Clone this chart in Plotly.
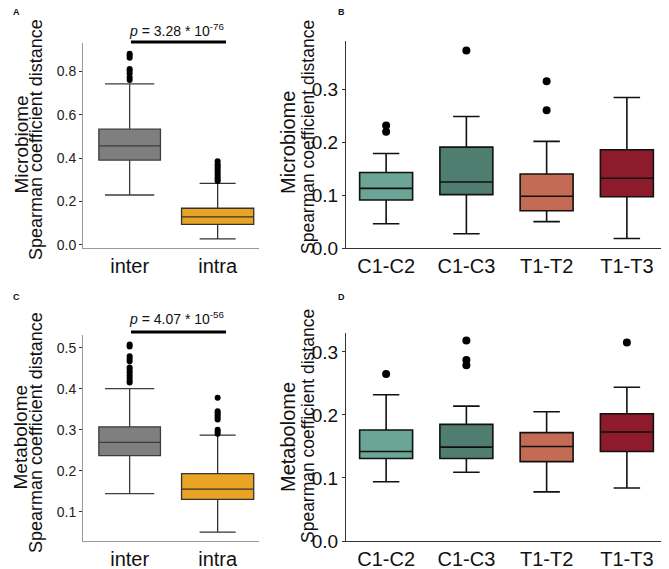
import plotly.graph_objects as go

# ---- data ----
pair_groups = ["inter", "intra"]
time_groups = ["C1-C2", "C1-C3", "T1-T2", "T1-T3"]

# panel A: microbiome inter vs intra
mic_pair_q1 = [0.391, 0.095]
mic_pair_med = [0.456, 0.129]
mic_pair_q3 = [0.533, 0.169]
mic_pair_lo = [0.230, 0.028]
mic_pair_hi = [0.742, 0.284]
mic_pair_out = [
    [0.880, 0.872, 0.862, 0.810, 0.802, 0.790, 0.772, 0.760],
    [0.385, 0.372, 0.362, 0.352, 0.342, 0.332, 0.322, 0.312, 0.302, 0.295],
]

# panel B: microbiome per time pair
mic_time_q1 = [0.091, 0.101, 0.0705, 0.097]
mic_time_med = [0.113, 0.125, 0.098, 0.132]
mic_time_q3 = [0.143, 0.191, 0.140, 0.186]
mic_time_lo = [0.046, 0.027, 0.050, 0.018]
mic_time_hi = [0.179, 0.249, 0.202, 0.285]
mic_time_out = [[0.232, 0.220], [0.374], [0.316, 0.261], []]

# panel C: metabolome inter vs intra
met_pair_q1 = [0.237, 0.130]
met_pair_med = [0.269, 0.155]
met_pair_q3 = [0.307, 0.193]
met_pair_lo = [0.144, 0.050]
met_pair_hi = [0.400, 0.287]
met_pair_out = [
    [0.508, 0.503, 0.479, 0.473, 0.467, 0.452, 0.446, 0.440, 0.433, 0.427, 0.420, 0.415],
    [0.378, 0.345, 0.340, 0.335, 0.330, 0.325, 0.300, 0.295, 0.290],
]

# panel D: metabolome per time pair
met_time_q1 = [0.131, 0.131, 0.126, 0.142]
met_time_med = [0.142, 0.149, 0.150, 0.173]
met_time_q3 = [0.176, 0.185, 0.172, 0.202]
met_time_lo = [0.094, 0.109, 0.078, 0.084]
met_time_hi = [0.232, 0.214, 0.205, 0.244]
met_time_out = [[0.265], [0.318, 0.287, 0.279], [], [0.315]]

pair_fill = ["#7f7f7f", "#e9a425"]
pair_line = ["#3d3d3d", "#333333"]
time_fill = ["#6aa595", "#4f7d6f", "#c46b56", "#8e1b2b"]

# the page body has an 8px margin, so the figure is 8px smaller and every
# pixel position below is given in window coordinates
OFF = 8
W, H = 669 - OFF, 569 - OFF
FONT = "Arial, Liberation Sans, sans-serif"


def fx(x):
    return (x - OFF) / W


def fy(y):
    return (H - (y - OFF)) / H


def px_x(a, b):
    return [fx(a), fx(b)]


def px_y(top, bottom):
    return [fy(bottom), fy(top)]


fig = go.Figure()


def add_boxes(cats, q1, med, q3, lo, hi, outs, fills, lines, widths, wwidths,
              xa, ya, lw, msize):
    for i, c in enumerate(cats):
        fig.add_trace(go.Box(
            x=[c], q1=[q1[i]], median=[med[i]], q3=[q3[i]],
            lowerfence=[lo[i]], upperfence=[hi[i]],
            fillcolor=fills[i], line=dict(color=lines[i], width=lw),
            width=widths[i], whiskerwidth=wwidths[i],
            boxpoints=False, xaxis=xa, yaxis=ya, showlegend=False,
            hoverinfo="skip",
        ))
        if outs[i]:
            fig.add_trace(go.Scatter(
                x=[c] * len(outs[i]), y=outs[i], mode="markers",
                marker=dict(color="black", size=msize),
                xaxis=xa, yaxis=ya, showlegend=False, hoverinfo="skip",
                cliponaxis=False,
            ))


add_boxes(pair_groups, mic_pair_q1, mic_pair_med, mic_pair_q3, mic_pair_lo,
          mic_pair_hi, mic_pair_out, pair_fill, pair_line, [0.7, 0.82],
          [0.8, 0.5], "x", "y", 1.3, 6)
add_boxes(time_groups, mic_time_q1, mic_time_med, mic_time_q3, mic_time_lo,
          mic_time_hi, mic_time_out, time_fill, ["#111111"] * 4, [0.66] * 4,
          [0.5] * 4, "x2", "y2", 1.6, 8)
add_boxes(pair_groups, met_pair_q1, met_pair_med, met_pair_q3, met_pair_lo,
          met_pair_hi, met_pair_out, pair_fill, pair_line, [0.7, 0.82],
          [0.8, 0.5], "x3", "y3", 1.3, 6)
add_boxes(time_groups, met_time_q1, met_time_med, met_time_q3, met_time_lo,
          met_time_hi, met_time_out, time_fill, ["#111111"] * 4, [0.66] * 4,
          [0.5] * 4, "x4", "y4", 1.6, 8)

small_ax = dict(showgrid=False, zeroline=False, showline=True, linecolor="#9a9a9a",
                linewidth=1, ticks="outside", ticklen=3, tickcolor="#333",
                tickfont=dict(size=14, color="#222", family=FONT))
big_ax = dict(showgrid=False, zeroline=False, showline=True, linecolor="#333",
              linewidth=1, ticks="outside", ticklen=3, tickcolor="#333",
              tickfont=dict(size=19, color="#111", family=FONT))
cat_font = dict(size=20, color="#111", family=FONT)

fig.update_layout(
    width=W, height=H,
    margin=dict(l=0, r=0, t=0, b=0, autoexpand=False),
    paper_bgcolor="white", plot_bgcolor="white",
    font=dict(family=FONT),
    xaxis=dict(domain=px_x(83, 259), range=[-0.53, 1.47], type="category",
               showgrid=False, showline=True, linecolor="#9a9a9a", ticks="",
               tickfont=cat_font, anchor="y"),
    yaxis=dict(domain=px_y(43, 248), range=[-0.014, 0.93],
               tickvals=[0, 0.2, 0.4, 0.6, 0.8], ticktext=["0.0", "0.2", "0.4", "0.6", "0.8"],
               anchor="x", **small_ax),
    xaxis2=dict(domain=px_x(346, 667), range=[-0.5, 3.5], type="category",
                showgrid=False, showline=True, linecolor="#333", ticks="",
                tickfont=cat_font, anchor="y2"),
    yaxis2=dict(domain=px_y(41, 248), range=[0, 0.392],
                tickvals=[0, 0.1, 0.2, 0.3], ticktext=["0.0", "0.1", "0.2", "0.3"],
                anchor="x2", **big_ax),
    xaxis3=dict(domain=px_x(83, 259), range=[-0.53, 1.47], type="category",
                showgrid=False, showline=True, linecolor="#9a9a9a", ticks="",
                tickfont=cat_font, anchor="y3"),
    yaxis3=dict(domain=px_y(335, 541), range=[0.0285, 0.531],
                tickvals=[0.1, 0.2, 0.3, 0.4, 0.5], ticktext=["0.1", "0.2", "0.3", "0.4", "0.5"],
                anchor="x3", **small_ax),
    xaxis4=dict(domain=px_x(346, 667), range=[-0.5, 3.5], type="category",
                showgrid=False, showline=True, linecolor="#333", ticks="",
                tickfont=cat_font, anchor="y4"),
    yaxis4=dict(domain=px_y(333, 541), range=[0, 0.33],
                tickvals=[0, 0.1, 0.2, 0.3], ticktext=["0.0", "0.1", "0.2", "0.3"],
                anchor="x4", **big_ax),
)

# significance bars (pixel positions) and p-values
for ybar in (42, 332):
    fig.add_shape(type="line", xref="paper", yref="paper",
                  x0=fx(131), x1=fx(226), y0=fy(ybar), y1=fy(ybar),
                  line=dict(color="black", width=3))

annotations = [
    dict(x=fx(177), y=fy(30), text="<i>p</i> = 3.28 * 10<sup>-76</sup>"),
    dict(x=fx(177), y=fy(318), text="<i>p</i> = 4.07 * 10<sup>-56</sup>"),
]
for a in annotations:
    fig.add_annotation(xref="paper", yref="paper", showarrow=False,
                       xanchor="center", yanchor="middle",
                       font=dict(size=14, color="#111", family=FONT), **a)

# y titles (two lines, different sizes); the outer line of A/C sits at the
# very left edge of the figure
ytitles = [
    (8, 145, "Microbiome", 19, "left"), (36, 140, "Spearman coefficient distance", 18, "center"),
    (288, 143, "Microbiome", 20, "center"), (308, 137, "Spearman coefficient distance", 17.5, "center"),
    (8, 437, "Metabolome", 19, "left"), (36, 433, "Spearman coefficient distance", 18, "center"),
    (288, 437, "Metabolome", 20, "center"), (308, 426, "Spearman coefficient distance", 17.5, "center"),
]
for x, y, t, s, anc in ytitles:
    fig.add_annotation(xref="paper", yref="paper", x=fx(x), y=fy(y), text=t,
                       textangle=-90, showarrow=False, xanchor=anc,
                       yanchor="middle", font=dict(size=s, color="#111", family=FONT))

# panel letters
for x, y, t in [(16, 12, "A"), (341, 12, "B"), (16, 297, "C"), (341, 297, "D")]:
    fig.add_annotation(xref="paper", yref="paper", x=fx(x), y=fy(y),
                       text="<b>" + t + "</b>", showarrow=False, xanchor="center",
                       yanchor="middle", font=dict(size=9, color="#111", family=FONT))

fig.write_html("out.html")
